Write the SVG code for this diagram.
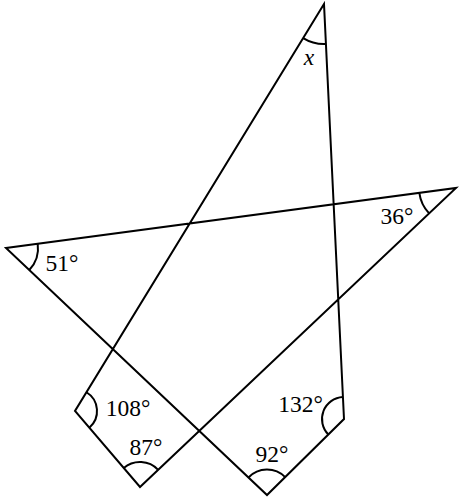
<svg xmlns="http://www.w3.org/2000/svg" width="462" height="497" viewBox="0 0 462 497">
<style>
.ln{fill:none;stroke:#000;stroke-width:2;stroke-linejoin:miter}
.arc{fill:none;stroke:#000;stroke-width:2}
.lb{font-family:"Liberation Serif","DejaVu Serif",serif;font-size:23.5px;fill:#000;text-anchor:middle}
</style>
<rect width="462" height="497" fill="#fff"/>
<g id="connectors">
<polygon class="ln" points="324,4 75,411 140,487 456,188 6,248 267,495 344,419"/>
</g>
<g id="angle-T">
<path class="arc" d="M303.12,38.12 A40,40 0 0 0 325.92,43.95"/>
<text class="lb" x="309" y="65" font-style="italic">x</text>
</g>
<g id="angle-R">
<path class="arc" d="M419.33,192.89 A37,37 0 0 0 429.12,213.43"/>
<text class="lb" x="397" y="224">36°</text>
</g>
<g id="angle-L">
<path class="arc" d="M37.72,243.77 A32,32 0 0 1 29.24,269.99"/>
<text class="lb" x="62" y="271">51°</text>
</g>
<g id="angle-A">
<path class="arc" d="M86.48,392.23 A22,22 0 0 1 89.3,427.72"/>
<text class="lb" x="128" y="416">108°</text>
</g>
<g id="angle-B">
<path class="arc" d="M123.75,468 A25,25 0 0 1 158.16,469.82"/>
<text class="lb" x="146" y="455">87°</text>
</g>
<g id="angle-C">
<path class="arc" d="M248.48,477.47 A25.5,25.5 0 0 1 285.15,477.09"/>
<text class="lb" x="272" y="462">92°</text>
</g>
<g id="angle-D">
<path class="arc" d="M342.94,397.03 A22,22 0 0 0 328.34,434.46"/>
<text class="lb" x="300.5" y="412">132°</text>
</g>
</svg>
